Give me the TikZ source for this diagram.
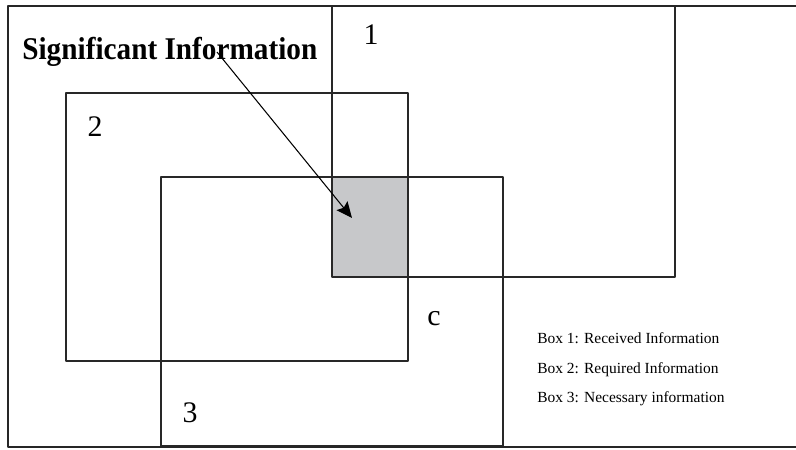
\documentclass[tikz,border=0pt]{standalone}
\usepackage{fontspec}
\setmainfont{Liberation Serif}
\usepackage{graphicx}
\usepackage{tikz}
\usetikzlibrary{arrows.meta}

\definecolor{overlapgray}{RGB}{199,200,202}
\definecolor{boxline}{RGB}{40,40,40}

\tikzset{
  boxedge/.style={draw=boxline, line width=0.8pt},
  frameedge/.style={draw=black!85, line width=1.2pt},
  boxnum/.style={inner sep=0pt, font=\fontsize{17}{19}\selectfont},
  legend/.style={inner sep=0pt, anchor=base west, font=\fontsize{8.8}{10}\selectfont}
}

\begin{document}
\begin{tikzpicture}[x=0.02cm, y=-0.02cm, line join=round]

  \useasboundingbox (0,0) rectangle (796,450);

  % shared part of boxes 1, 2 and 3
  \fill[overlapgray] (332,177) rectangle (408,277);

  % the three boxes
  \draw[boxedge] (332,6) rectangle (675,277);   % box 1
  \draw[boxedge] (66,93) rectangle (408,361);   % box 2
  \draw[boxedge] (161,177) rectangle (503,446); % box 3

  % outer frame, open on the right
  \draw[frameedge] (796,6) -- (8,6) -- (8,447) -- (796,447);

  % box numbers
  \node[boxnum] (num1) at (371,35) {1};
  \node[boxnum] (num2) at (95,127) {2};
  \node[boxnum] (num3) at (190,413) {3};
  \node[boxnum] (numc) at (434,319) {c};

  % title and arrow into the shaded part
  \node[inner sep=0pt, anchor=base west, font=\fontsize{18}{20}\selectfont\bfseries]
    (signif) at (22,59) {\scalebox{0.925}[1]{Significant Information}};
  \coordinate (tail) at (217,52);
  \coordinate (tip) at (352,218);
  \draw[line width=0.6pt, -{Stealth[length=9pt, width=8pt, inset=1.5pt]}] (tail) -- (tip);

  % legend
  \node[legend] (leg1) at (537,343) {Box 1: Received Information};
  \node[legend] (leg2) at (537,373) {Box 2: Required Information};
  \node[legend] (leg3) at (537,402) {Box 3: Necessary information};

\end{tikzpicture}
\end{document}
